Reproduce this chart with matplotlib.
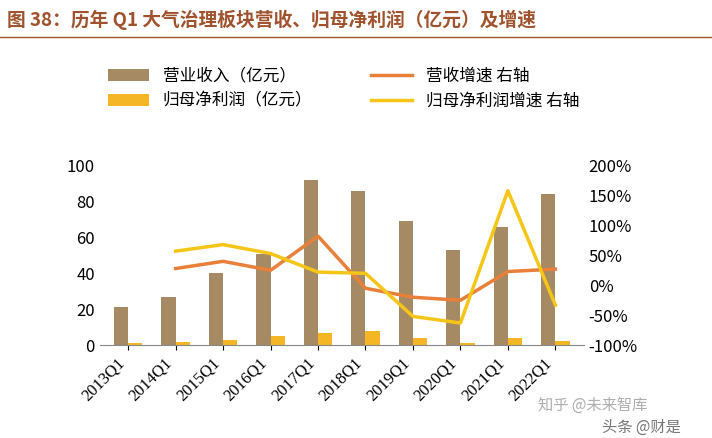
import matplotlib
matplotlib.use("Agg")
import matplotlib.pyplot as plt
from matplotlib.ticker import FuncFormatter
plt.rcParams['font.family'] = ['Noto Sans CJK SC']

years = ["2013Q1","2014Q1","2015Q1","2016Q1","2017Q1","2018Q1","2019Q1","2020Q1","2021Q1","2022Q1"]
revenue = [21, 27, 40, 50.5, 92, 86, 69, 53, 66, 84]
profit = [1, 1.5, 3, 5, 7, 8, 4, 1, 4, 2.5]
rev_growth = [None, 28, 40, 25, 82, -5, -20, -25, 23, 27]
prof_growth = [None, 57, 68, 53, 22, 20, -52, -63, 158, -33]

fig = plt.figure(figsize=(7.12, 4.38), dpi=100)
ax = fig.add_axes([0.14, 0.212, 0.68, 0.41])
x = list(range(len(years)))
w = 0.3
ax.bar([i - w/2 for i in x], revenue, w, color="#A68A64", label="营业收入（亿元）")
ax.bar([i + w/2 for i in x], profit, w, color="#F5B625", label="归母净利润（亿元）")
ax.set_ylim(0, 100)
ax.set_yticks(range(0, 101, 20))
ax.set_xlim(-0.6, 9.6)
ax.set_xticks(x)
ax.set_xticklabels(years, rotation=45, ha="right", fontfamily="Liberation Serif", fontsize=12)
ax.tick_params(axis='y', labelsize=12, length=0)
for s in ["top", "right", "left"]:
    ax.spines[s].set_visible(False)
ax.spines["bottom"].set_color("#888888")

ax2 = ax.twinx()
xs = x[1:]
l1, = ax2.plot(xs, rev_growth[1:], color="#E8803A", lw=2.5, label="营收增速 右轴")
l2, = ax2.plot(xs, prof_growth[1:], color="#F5C518", lw=2.5, label="归母净利润增速 右轴")
ax2.set_ylim(-100, 200)
ax2.set_yticks(range(-100, 201, 50))
ax2.yaxis.set_major_formatter(FuncFormatter(lambda v, p: f"{int(v)}%"))
ax2.tick_params(axis='y', labelsize=12, length=0)
for s in ["top", "right", "left", "bottom"]:
    ax2.spines[s].set_visible(False)

h1, lb1 = ax.get_legend_handles_labels()
fig.legend([h1[0], h1[1], l1, l2], [lb1[0], lb1[1], "营收增速 右轴", "归母净利润增速 右轴"],
           ncol=2, loc="upper left", bbox_to_anchor=(0.13, 0.88), frameon=False,
           fontsize=12, columnspacing=3.5, handlelength=2.5)

fig.text(0.01, 0.955, "图 38：历年 Q1 大气治理板块营收、归母净利润（亿元）及增速",
         fontsize=13.5, fontweight="bold", color="#A0522D", va="center")
fig.add_artist(plt.Line2D([0.0, 1.0], [0.915, 0.915], color="#A0522D", lw=1))
fig.text(0.755, 0.065, "知乎 @未来智库", fontsize=11, color="#999999", alpha=0.8)
fig.text(0.845, 0.015, "头条 @财是", fontsize=11, color="#555555", alpha=0.8)
fig.savefig("out.png", dpi=100)
